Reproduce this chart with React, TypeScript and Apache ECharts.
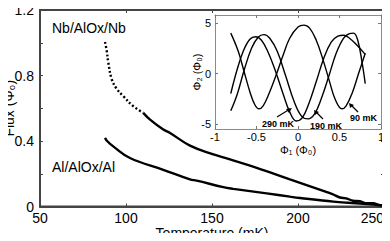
import React, { useEffect, useRef } from "react";
import * as echarts from "echarts";

// Main panel: Nb/AlOx/Nb (dotted head + solid body) and Al/AlOx/Al
const nbHeadTemp = [87.8, 88.8, 89.7, 91.7, 94.5, 98.4, 104.2, 110];
const nbHeadFlux = [1.005, 0.95, 0.88, 0.777, 0.72, 0.674, 0.613, 0.572];
const nbTailTemp = [110, 114, 121.7, 125.6, 137.2, 150.8, 156.6, 176, 195.3, 214.7, 220, 224.4, 228, 232, 236, 240, 243.8, 247, 250];
const nbTailFlux = [0.572, 0.531, 0.47, 0.449, 0.372, 0.318, 0.3, 0.236, 0.165, 0.095, 0.075, 0.055, 0.05, 0.035, 0.032, 0.02, 0.02, 0.01, 0.008];
const alTemp = [87.8, 89, 92.6, 102.3, 121.7, 137.2, 141.1, 156.6, 162.4, 181.8, 195.3, 201.2, 220.5, 240, 250];
const alFlux = [0.419, 0.4, 0.367, 0.296, 0.224, 0.165, 0.158, 0.118, 0.108, 0.08, 0.06, 0.052, 0.03, 0.015, 0.005];

// Inset: Φ2 vs Φ1 at three temperatures
const phi1_90 = [-0.81, -0.72, -0.65, -0.58, -0.52, -0.47, -0.42, -0.35, -0.27, -0.18, -0.1, 0.0, 0.07, 0.14, 0.22, 0.3, 0.38, 0.45, 0.53, 0.58, 0.65, 0.73, 0.81];
const phi2_90 = [4.0, 2.2, 0.2, -1.8, -3.1, -3.5, -3.2, -2.0, -0.3, 1.8, 3.5, 4.6, 4.8, 4.5, 3.3, 1.4, -0.8, -2.6, -3.5, -3.2, -2.0, 0.0, 2.0];
const phi1_290 = [-0.81, -0.74, -0.66, -0.58, -0.51, -0.44, -0.36, -0.27, -0.18, -0.1, -0.02, 0.05, 0.13, 0.22, 0.31, 0.4, 0.48, 0.55, 0.62, 0.7, 0.81];
const phi2_290 = [-2.0, 0.2, 2.2, 3.4, 3.65, 3.3, 2.1, 0.2, -2.0, -3.8, -4.7, -4.4, -3.0, -0.8, 1.5, 3.1, 3.7, 3.8, 3.5, 2.9, 1.9];
const phi1_190 = [-0.81, -0.73, -0.65, -0.56, -0.48, -0.41, -0.34, -0.25, -0.15, -0.05, 0.04, 0.12, 0.2, 0.28, 0.37, 0.46, 0.55, 0.62, 0.67, 0.72, 0.77, 0.81];
const phi2_190 = [-3.7, -2.0, 0.3, 2.5, 3.6, 3.85, 3.5, 2.2, -0.2, -2.7, -4.2, -4.5, -4.0, -2.5, -0.3, 2.0, 3.5, 3.95, 4.0, 3.3, 1.2, -1.0];

const mainXTicks = [50, 100, 150, 200, 250];
const mainYLabels = [0, 0.4, 0.8, 1.2];
const insetXTicks = [-1, -0.5, 0, 0.5, 1];
const insetYTicks = [-5, 0, 5];

const zip = (a: number[], b: number[]) => a.map((v, i) => [v, b[i]]);

const FONT = "Liberation Sans";
const W = 390;
const H = 241;
const MAIN = { left: 40, right: 6, top: 10, bottom: 34.5 };

export default function App() {
  const ref = useRef<HTMLDivElement>(null);
  useEffect(() => {
    if (!ref.current) return;
    const chart = echarts.init(ref.current, null, { renderer: "svg" });
    const axisLine = { show: true, onZero: false, lineStyle: { color: "#444", width: 1.8 } };
    const insetLine = { show: true, onZero: false, lineStyle: { color: "#8a8a8a", width: 1 } };
    const mainTick = { show: true, inside: true, length: 3, lineStyle: { color: "#444" } };
    const insetTick = { show: true, inside: true, length: 3, lineStyle: { color: "#777" } };
    const lbl = { color: "#000", fontFamily: FONT, fontSize: 14 };
    const ilbl = { color: "#000", fontFamily: FONT, fontSize: 11 };
    const lineSeries = (data: number[][], x: number, y: number, width: number, type: any = "solid") => ({
      type: "line",
      xAxisIndex: x,
      yAxisIndex: y,
      data,
      smooth: 0.4,
      showSymbol: false,
      lineStyle: { color: "#000", width, type },
      z: 5,
    });
    chart.setOption({
      animation: false,
      backgroundColor: "#fff",
      grid: [
        { ...MAIN, show: false, outerBoundsMode: "none", containLabel: false },
        { left: 215, right: 9, top: 15, bottom: 112, show: true, backgroundColor: "#fff", borderWidth: 0, z: 3, outerBoundsMode: "none", containLabel: false },
      ],
      xAxis: [
        {
          gridIndex: 0, type: "value", min: 50, max: 250, interval: 50, position: "bottom",
          axisLine, axisTick: mainTick, splitLine: { show: false },
          axisLabel: {
            ...lbl, margin: 4, alignMaxLabel: "right",
            formatter: (v: number) => (mainXTicks.includes(v) ? String(v) : ""),
          },
          name: "Temperature (mK)", nameLocation: "middle", nameGap: 19, nameMoveOverlap: false,
          nameTextStyle: { ...lbl },
        },
        {
          gridIndex: 0, type: "value", min: 50, max: 250, position: "top",
          axisLine, axisTick: { ...mainTick, customValues: mainXTicks }, splitLine: { show: false }, axisLabel: { show: false },
        },
        {
          gridIndex: 1, type: "value", min: -1, max: 1, position: "bottom",
          axisLine: insetLine, axisTick: { ...insetTick, customValues: insetXTicks }, splitLine: { show: false },
          axisLabel: { ...ilbl, margin: 2, customValues: insetXTicks, formatter: (v: number) => String(v) },
          name: "Φ₁ (Φ₀)", nameLocation: "middle", nameGap: 15, nameMoveOverlap: false,
          nameTextStyle: { ...ilbl },
          z: 4,
        },
        {
          gridIndex: 1, type: "value", min: -1, max: 1, position: "top",
          axisLine: insetLine, axisTick: { ...insetTick, customValues: insetXTicks }, splitLine: { show: false }, axisLabel: { show: false }, z: 4,
        },
      ],
      yAxis: [
        {
          gridIndex: 0, type: "value", min: 0, max: 1.2, interval: 0.2, position: "left",
          axisLine, axisTick: mainTick, splitLine: { show: false },
          axisLabel: {
            ...lbl, margin: 6,
            formatter: (v: number) => {
              const r = Math.round(v * 10) / 10;
              return mainYLabels.some((m) => Math.abs(m - r) < 1e-6) ? String(r) : "";
            },
          },
          name: "Flux (Φ₀)", nameLocation: "middle", nameGap: 24, nameMoveOverlap: false,
          nameTextStyle: { ...lbl },
        },
        {
          gridIndex: 0, type: "value", min: 0, max: 1.2, interval: 0.2, position: "right",
          axisLine, axisTick: mainTick, splitLine: { show: false }, axisLabel: { show: false },
        },
        {
          gridIndex: 1, type: "value", min: -5.5, max: 5.8, position: "left",
          axisLine: insetLine, axisTick: { ...insetTick, customValues: insetYTicks }, splitLine: { show: false },
          axisLabel: { ...ilbl, margin: 4, customValues: insetYTicks, formatter: (v: number) => String(v) },
          name: "Φ₂ (Φ₀)", nameLocation: "middle", nameGap: 13, nameMoveOverlap: false,
          nameTextStyle: { ...ilbl },
          z: 4,
        },
        {
          gridIndex: 1, type: "value", min: -5.5, max: 5.8, position: "right",
          axisLine: insetLine, axisTick: { ...insetTick, customValues: insetYTicks }, splitLine: { show: false }, axisLabel: { show: false }, z: 4,
        },
      ],
      series: [
        lineSeries(zip(nbHeadTemp, nbHeadFlux), 0, 0, 2.4, [2, 2.2]),
        lineSeries(zip(nbTailTemp, nbTailFlux), 0, 0, 2.4),
        lineSeries(zip(alTemp, alFlux), 0, 0, 2.4),
        lineSeries(zip(phi1_90, phi2_90), 2, 2, 1.4),
        lineSeries(zip(phi1_290, phi2_290), 2, 2, 1.4),
        lineSeries(zip(phi1_190, phi2_190), 2, 2, 1.4),
        { type: "line", xAxisIndex: 1, yAxisIndex: 1, data: [[60, 0.5]], showSymbol: false, lineStyle: { opacity: 0 }, silent: true },
        { type: "line", xAxisIndex: 3, yAxisIndex: 3, data: [[0, 0]], showSymbol: false, lineStyle: { opacity: 0 }, silent: true },
      ],
      graphic: [
        {
          type: "rect", z: 1, silent: true,
          shape: { x: MAIN.left, y: MAIN.top, width: W - MAIN.left - MAIN.right, height: H - MAIN.top - MAIN.bottom },
          style: { fill: "none", stroke: "#444", lineWidth: 1.8 },
        },
        { type: "text", left: 52, top: 21, style: { text: "Nb/AlOx/Nb", fill: "#000", font: `14px "${FONT}"` } },
        { type: "text", left: 52, top: 160, style: { text: "Al/AlOx/Al", fill: "#000", font: `14px "${FONT}"` } },
        { type: "text", left: 262, top: 119, z: 10, style: { text: "290 mK", fill: "#000", font: `bold 9px "${FONT}"` } },
        { type: "text", left: 310, top: 121, z: 10, style: { text: "190 mK", fill: "#000", font: `bold 9px "${FONT}"` } },
        { type: "text", left: 350, top: 113, z: 10, style: { text: "90 mK", fill: "#000", font: `bold 9px "${FONT}"` } },
        { type: "line", z: 10, shape: { x1: 277, y1: 117, x2: 290, y2: 109 }, style: { stroke: "#000", lineWidth: 1.2 } },
        { type: "polygon", z: 10, shape: { points: [[292, 108], [286, 109], [289, 113]] }, style: { fill: "#000" } },
        { type: "line", z: 10, shape: { x1: 323, y1: 119, x2: 316, y2: 112 }, style: { stroke: "#000", lineWidth: 1.2 } },
        { type: "polygon", z: 10, shape: { points: [[314, 110], [315, 115], [319, 112]] }, style: { fill: "#000" } },
        { type: "line", z: 10, shape: { x1: 358, y1: 112, x2: 351, y2: 105 }, style: { stroke: "#000", lineWidth: 1.2 } },
        { type: "polygon", z: 10, shape: { points: [[349, 103], [350, 108], [354, 105]] }, style: { fill: "#000" } },
      ],
    });
    return () => chart.dispose();
  }, []);
  return <div ref={ref} style={{ width: W, height: H, margin: -8 }} />;
}
